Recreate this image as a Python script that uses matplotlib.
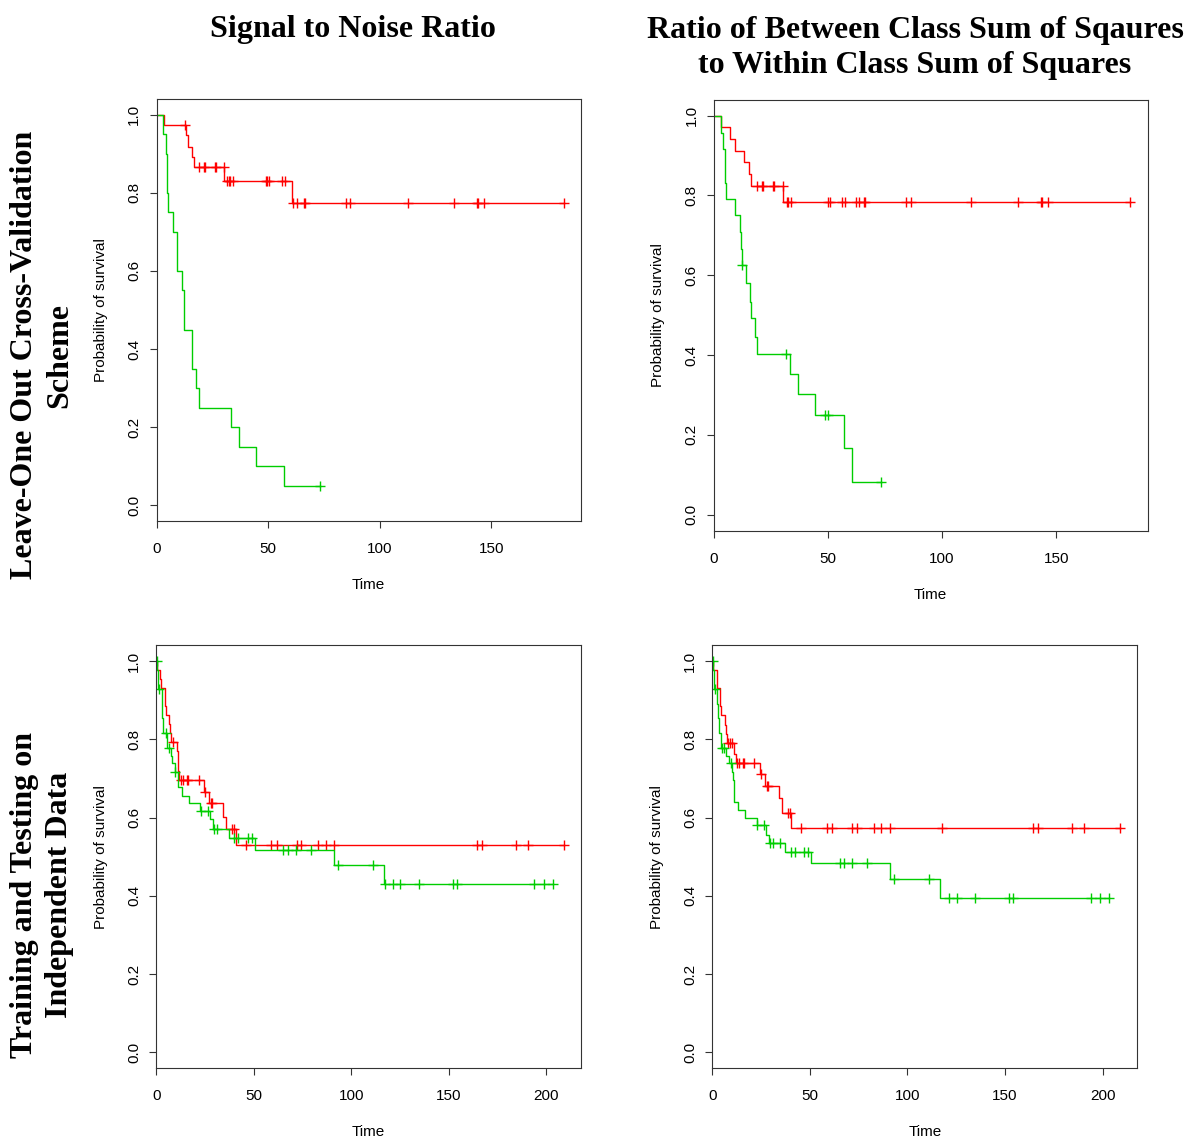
import numpy as np
import matplotlib.pyplot as plt

# ---- data (Kaplan-Meier curves) ----
# top-left: Signal to Noise Ratio, leave-one-out
snr_loo_red_t = [0, 3.4, 13.1, 14.0, 16.1, 16.6, 30.4, 60.5]
snr_loo_red_s = [1.0, 0.974, 0.947, 0.918, 0.892, 0.867, 0.830, 0.773]
snr_loo_red_c = [12.6, 19.1, 21.4, 21.8, 26.0, 26.6, 30.2, 31.8, 32.3, 32.9, 34.1,
                 48.9, 49.3, 50.5, 56.4, 57.8, 61.3, 62.9, 65.9, 66.4, 84.8, 86.7,
                 112.9, 133.5, 143.6, 144.2, 146.8, 182.8]
snr_loo_grn_t = [0, 3.1, 4.3, 4.8, 5.2, 7.3, 9.4, 11.5, 12.1, 12.4, 15.7, 17.8,
                 19.1, 33.5, 36.8, 44.4, 57.2]
snr_loo_grn_s = [1.0, 0.95, 0.90, 0.80, 0.75, 0.70, 0.60, 0.55, 0.50, 0.45, 0.35,
                 0.30, 0.25, 0.20, 0.15, 0.10, 0.05]
snr_loo_grn_c = [73.2]

# top-right: between/within sum of squares, leave-one-out
bw_loo_red_t = [0, 3.2, 7.3, 9.3, 13.1, 15.6, 16.5, 30.4]
bw_loo_red_s = [1.0, 0.972, 0.941, 0.912, 0.883, 0.854, 0.823, 0.784]
bw_loo_red_c = [19.0, 21.0, 21.6, 26.0, 26.4, 30.2, 32.1, 32.7, 33.7, 50.2, 50.8,
                56.2, 57.6, 62.3, 63.8, 65.8, 66.2, 84.3, 86.2, 112.6, 133.1,
                143.3, 143.9, 146.5, 182.4]
bw_loo_grn_t = [0, 3.1, 4.2, 4.8, 5.25, 9.3, 11.4, 11.8, 12.3, 14.0, 15.8, 16.2,
                17.9, 19.1, 33.4, 36.8, 44.4, 56.9, 60.4]
bw_loo_grn_s = [1.0, 0.957, 0.917, 0.832, 0.791, 0.750, 0.708, 0.667, 0.626, 0.580,
                0.534, 0.492, 0.445, 0.403, 0.353, 0.302, 0.251, 0.168, 0.083]
bw_loo_grn_c = [12.4, 31.7, 48.7, 50.2, 73.3]

# bottom-left: Signal to Noise Ratio, independent data
snr_ind_red_t = [0, 0.3, 1.9, 2.2, 4.4, 4.6, 5.0, 6.6, 7.0, 7.4, 10.4, 10.9, 11.2,
                 11.8, 24.6, 27.0, 34.2, 35.8, 40.7]
snr_ind_red_s = [1.0, 0.977, 0.954, 0.931, 0.908, 0.885, 0.862, 0.839, 0.816, 0.793,
                 0.770, 0.745, 0.720, 0.695, 0.666, 0.636, 0.602, 0.570, 0.530]
snr_ind_red_c = [8.4, 12.5, 13.9, 15.9, 16.3, 21.7, 24.8, 27.9, 28.6, 38.7, 39.9,
                 45.9, 58.9, 61.8, 72.0, 74.3, 83.0, 86.9, 91.0, 164.6, 167.3,
                 184.4, 190.6, 209.4]
snr_ind_grn_t = [0, 0.5, 0.9, 1.0, 2.7, 2.9, 3.25, 5.3, 7.36, 8.04, 9.58, 11.1,
                 13.0, 16.9, 22.4, 27.5, 29.3, 37.5, 50.5, 91.0, 116.7]
snr_ind_grn_s = [1.0, 0.976, 0.952, 0.929, 0.890, 0.854, 0.816, 0.778, 0.758, 0.738,
                 0.717, 0.678, 0.656, 0.636, 0.617, 0.595, 0.571, 0.547, 0.517,
                 0.478, 0.429]
snr_ind_grn_c = [0.2, 1.4, 5.0, 6.3, 9.7, 22.9, 26.7, 29.8, 31.0, 40.0, 42.1, 46.9,
                 49.1, 65.2, 67.4, 71.9, 79.6, 93.1, 111.4, 117.5, 121.6, 125.2,
                 135.0, 152.4, 154.1, 194.0, 198.8, 203.8]

# bottom-right: between/within sum of squares, independent data
bw_ind_red_t = [0, 0.3, 2.2, 2.4, 3.9, 4.2, 4.4, 6.5, 7.0, 7.5, 11.25, 12.4, 24.4,
                26.9, 34.1, 35.5, 40.2]
bw_ind_red_s = [1.0, 0.977, 0.953, 0.930, 0.907, 0.884, 0.861, 0.837, 0.814, 0.791,
                0.763, 0.740, 0.712, 0.681, 0.649, 0.612, 0.573]
bw_ind_red_c = [8.2, 9.0, 9.9, 12.8, 13.6, 15.9, 16.4, 21.5, 24.9, 27.8, 28.6,
                38.9, 39.9, 45.7, 58.8, 61.5, 71.8, 74.2, 82.9, 86.6, 91.0, 117.6,
                164.3, 167.1, 184.1, 190.3, 209.0]
bw_ind_grn_t = [0, 0.5, 0.9, 1.1, 2.2, 2.7, 3.4, 4.4, 6.8, 8.5, 9.9, 10.7, 11.25,
                13.0, 17.0, 22.7, 27.3, 29.2, 37.5, 50.5, 90.9, 116.6]
bw_ind_grn_s = [1.0, 0.976, 0.952, 0.929, 0.891, 0.854, 0.816, 0.778, 0.758, 0.738,
                0.717, 0.696, 0.639, 0.619, 0.600, 0.581, 0.556, 0.536, 0.511,
                0.483, 0.442, 0.394]
bw_ind_grn_c = [0.2, 1.4, 5.1, 6.1, 9.7, 23.0, 26.6, 29.8, 31.2, 34.6, 40.2, 42.3,
                46.9, 49.1, 65.3, 67.3, 71.8, 79.4, 93.1, 111.3, 121.5, 125.3,
                134.8, 152.2, 153.9, 194.0, 198.6, 203.5]

col_titles = ["Signal to Noise Ratio",
              "Ratio of Between Class Sum of Sqaures\nto Within Class Sum of Squares"]
row_titles = ["Leave-One Out Cross-Validation\nScheme",
              "Training and Testing on\nIndependent Data"]

RED = "#FF0000"
GREEN = "#00CD00"
SANS = "Liberation Sans"
SERIF = "Liberation Serif"

W, H = 1187, 1137
fig = plt.figure(figsize=(W / 100, H / 100), dpi=100)


def px_axes(left, top, right, bottom):
    return fig.add_axes([left / W, 1 - bottom / H, (right - left) / W, (bottom - top) / H])


def km(ax, t, s, c, color):
    t = np.asarray(t, float)
    s = np.asarray(s, float)
    c = np.asarray(c, float)
    tend = max(t[-1], c.max())
    ax.step(np.append(t, tend), np.append(s, s[-1]), where="post",
            color=color, lw=1.0)
    cy = s[np.searchsorted(t, c, side="right") - 1]
    ax.plot(c, cy, ls="none", marker="+", ms=7, mew=1.0, color=color)


panels = [
    ((156.5, 99, 580.5, 521), [0, 50, 100, 150], 190,
     [(snr_loo_red_t, snr_loo_red_s, snr_loo_red_c, RED),
      (snr_loo_grn_t, snr_loo_grn_s, snr_loo_grn_c, GREEN)]),
    ((713.7, 99.7, 1147.7, 530.7), [0, 50, 100, 150], 190,
     [(bw_loo_red_t, bw_loo_red_s, bw_loo_red_c, RED),
      (bw_loo_grn_t, bw_loo_grn_s, bw_loo_grn_c, GREEN)]),
    ((156.3, 645.3, 580.7, 1068), [0, 50, 100, 150, 200], 217.8,
     [(snr_ind_red_t, snr_ind_red_s, snr_ind_red_c, RED),
      (snr_ind_grn_t, snr_ind_grn_s, snr_ind_grn_c, GREEN)]),
    ((712.3, 645.3, 1137.3, 1068), [0, 50, 100, 150, 200], 217.8,
     [(bw_ind_red_t, bw_ind_red_s, bw_ind_red_c, RED),
      (bw_ind_grn_t, bw_ind_grn_s, bw_ind_grn_c, GREEN)]),
]

for box, xt, xmax, curves in panels:
    ax = px_axes(*box)
    for t, s, c, col in curves:
        km(ax, t, s, c, col)
    ax.set_xlim(0, xmax)
    ax.set_ylim(-0.04, 1.04)
    ax.set_xticks(xt)
    ax.set_xticklabels([str(v) for v in xt], fontfamily=SANS, fontsize=11)
    yt = [0.0, 0.2, 0.4, 0.6, 0.8, 1.0]
    ax.set_yticks(yt)
    ax.set_yticklabels([f"{v:.1f}" for v in yt], fontfamily=SANS, fontsize=11,
                       rotation=90, va="center")
    ax.tick_params(length=5, width=0.8, color="#333333")
    ax.tick_params(axis="x", pad=10)
    ax.tick_params(axis="y", pad=6)
    for sp in ax.spines.values():
        sp.set_linewidth(0.8)
        sp.set_color("#333333")
    ax.set_xlabel("Time", fontfamily=SANS, fontsize=11, labelpad=16)
    ax.set_ylabel("Probability of survival", fontfamily=SANS, fontsize=11,
                  labelpad=14)

fig.text(353 / W, 1 - 30 / H, col_titles[0], ha="center", va="center",
         fontfamily=SERIF, fontweight="bold", fontsize=23)
fig.text(915 / W, 1 - 48 / H, col_titles[1], ha="center", va="center",
         fontfamily=SERIF, fontweight="bold", fontsize=23, linespacing=1.28)
fig.text(42 / W, 1 - 355 / H, row_titles[0], ha="center", va="center",
         rotation=90, fontfamily=SERIF, fontweight="bold", fontsize=23,
         linespacing=1.28, multialignment="center")
fig.text(42 / W, 1 - 895 / H, row_titles[1], ha="center", va="center",
         rotation=90, fontfamily=SERIF, fontweight="bold", fontsize=23,
         linespacing=1.28, multialignment="center")

fig.savefig("out.png", dpi=100)
